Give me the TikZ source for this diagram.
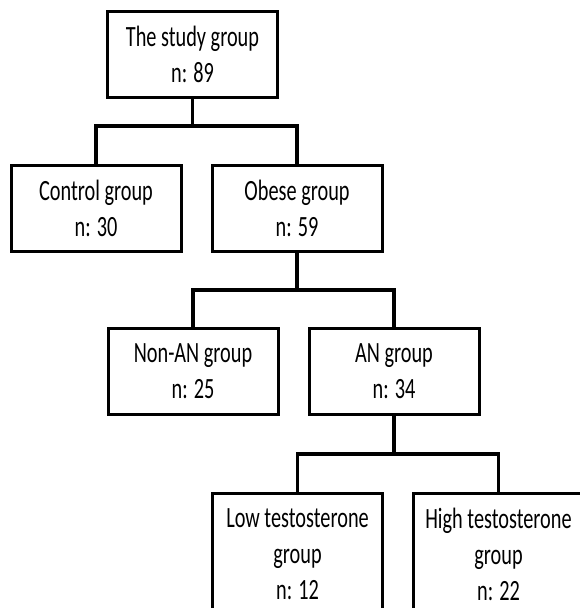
\documentclass[tikz,border=0pt]{standalone}
\usepackage{fontspec}
\setmainfont[FakeStretch=0.69]{Carlito}

\begin{document}
\begin{tikzpicture}[
  font=\fontsize{14.7pt}{18pt}\selectfont,
  grp/.style={draw,line width=1.5pt,minimum width=85pt,minimum height=43pt,
    align=center,inner sep=2pt,anchor=north},
  tall/.style={grp,minimum height=61pt},
  forkdown/.style={edge from parent path={(\tikzparentnode.south) -- +(0pt,-#1) -| (\tikzchildnode.north)}},
  edge from parent/.style={draw,line width=1.7pt},
  level 1/.style={sibling distance=100.5pt, level distance=54.75pt, forkdown=13.5pt,
    every child node/.style={xshift=2pt}},
  level 2/.style={sibling distance=100.5pt, level distance=59.25pt, forkdown=18.5pt,
    every child node/.style={xshift=-1.75pt}},
  level 3/.style={sibling distance=100.5pt, level distance=60pt, forkdown=19pt,
    every child node/.style={xshift=2pt}}]
\useasboundingbox (0,0) rectangle (289.5pt,-304pt);
\node[grp] (study) at (96.25pt,-5pt) {The study group\\n: 89}
  child {node[grp] (control) {Control group\\n: 30}}
  child {node[grp] (obese) {Obese group\\n: 59}
    child {node[grp] (nonan) {Non-AN group\\n: 25}}
    child {node[grp] (an) {AN group\\n: 34}
      child {node[tall] (lowt) {Low testosterone\\group\\n: 12}}
      child {node[tall] (hight) {High testosterone\\group\\n: 22}}}};
\end{tikzpicture}
\end{document}
